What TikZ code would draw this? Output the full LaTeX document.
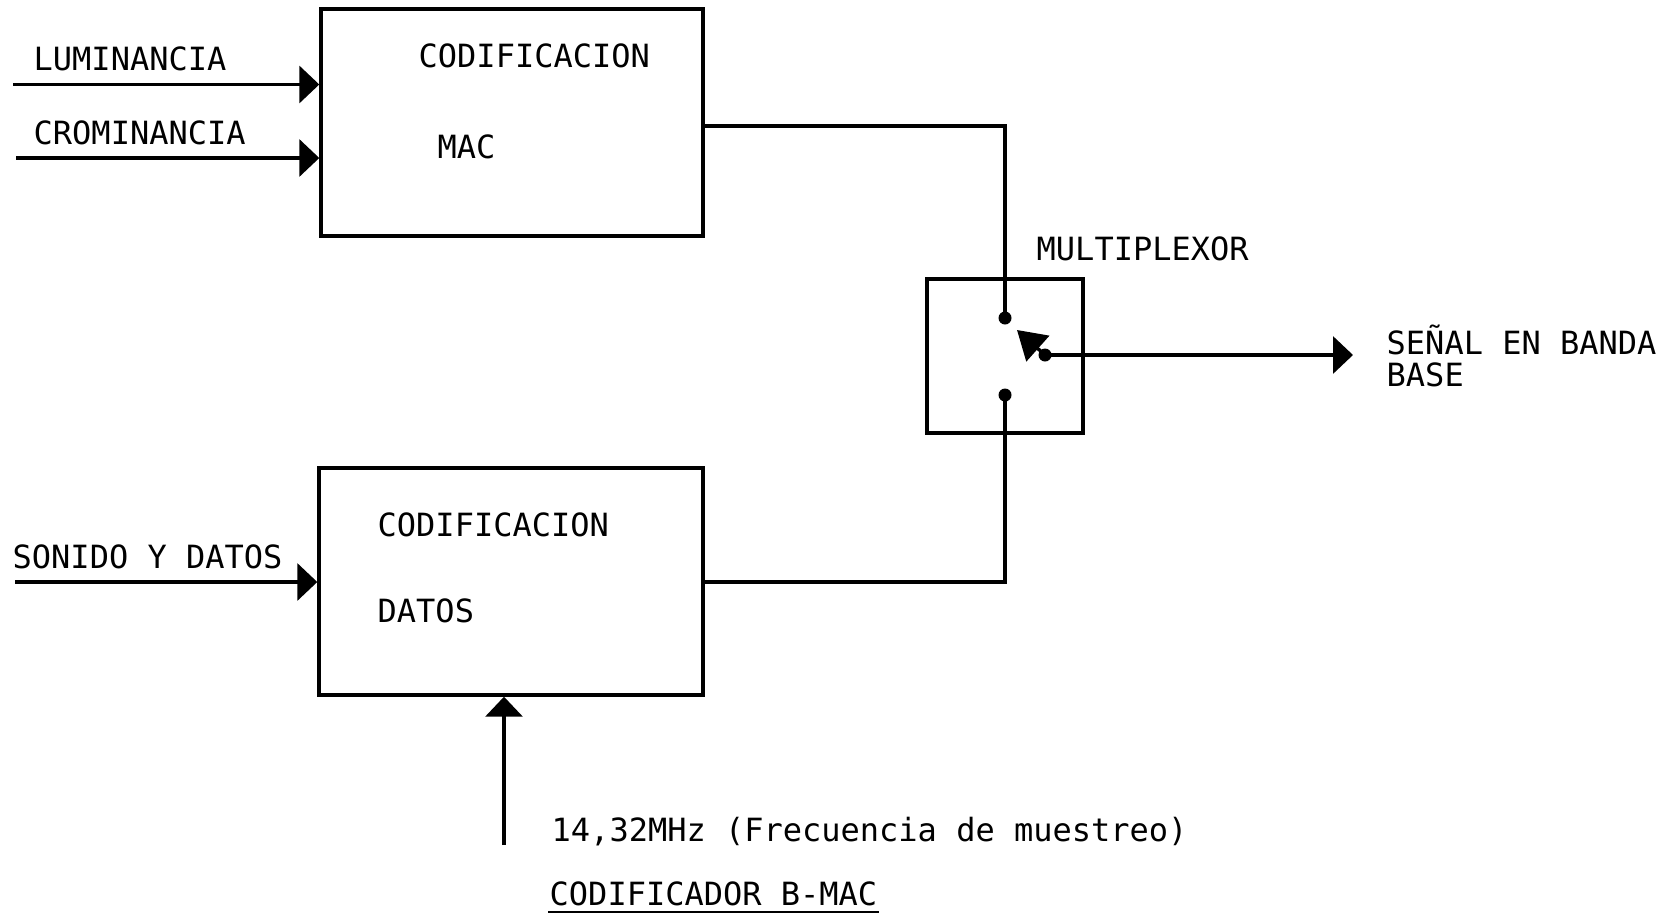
\documentclass[tikz,border=0pt]{standalone}
\usepackage{fontspec}
\setmonofont{DejaVu Sans Mono}
\usetikzlibrary{arrows.meta}
\begin{document}
\begin{tikzpicture}[x=1pt,y=-1pt,line width=3.4pt,
  lbl/.style={font=\ttfamily\fontsize{32}{36}\selectfont,inner sep=0pt,anchor=base west},
  blk/.style={draw,line width=3.4pt,inner sep=0pt},
  arr/.style={-{Triangle[length=20pt,width=37pt]},line width=3.4pt},
  swarr/.style={-{Triangle[length=28pt,width=34pt]},line width=3.4pt},
  dotn/.style={circle,fill,inner sep=0pt,minimum size=13pt}]
\useasboundingbox (0,0) rectangle (1677,913);
% blocks
\node[blk,minimum width=382pt,minimum height=227pt] (mac) at (512,122.3) {};
\node[blk,minimum width=384pt,minimum height=227pt] (dat) at (511,581.5) {};
\node[blk,minimum width=156pt,minimum height=154pt] (mux) at (1005,356) {};
% labels
\node[lbl] (lum) at (32,70.7) {LUMINANCIA};
\node[lbl] (cro) at (32,144.7) {CROMINANCIA};
\node[lbl] (cod1) at (417,67.7) {CODIFICACION};
\node[lbl] (macl) at (436,158.2) {MAC};
\node[lbl] (muxl) at (1035,260.7) {MULTIPLEXOR};
\node[lbl] (sen) at (1385,354.7) {SEÑAL EN BANDA};
\node[lbl] (base) at (1385,386.7) {BASE};
\node[lbl] (cod2) at (376,536.7) {CODIFICACION};
\node[lbl] (datl) at (376,622.7) {DATOS};
\node[lbl] (son) at (11,568.7) {SONIDO Y DATOS};
\node[lbl] (freq) at (550,841.7) {14,32MHz (Frecuencia de muestreo)};
\node[lbl] (codb) at (548,905.7) {CODIFICADOR B-MAC};
\draw[line width=2.5pt] ([yshift=-4pt]codb.south west) -- ([yshift=-4pt]codb.south east);
% free ends
\coordinate (lumin) at (13,84.5);
\coordinate (croin) at (16,158);
\coordinate (sonin) at (15,582);
\coordinate (clkin) at (504,845);
\coordinate (outend) at (1353,355);
\coordinate (swtip) at (1017,330);
% switch contacts
\node[dotn] (c1) at (1005,318) {};
\node[dotn] (c2) at (1005,395) {};
\node[dotn] (piv) at (1045,355) {};
% connectors
\draw[arr] (lumin) -- (lumin -| mac.west);
\draw[arr] (croin) -- (croin -| mac.west);
\draw[arr] (sonin) -- (sonin -| dat.west);
\draw[arr] (clkin) -- (clkin |- dat.south);
\draw (mac.east |- 0,126) -| (c1.center);
\draw (dat.east |- 0,582) -| (c2.center);
\draw[swarr] (piv.center) -- (swtip);
\draw[arr] (piv.center) -- (outend);
\end{tikzpicture}
\end{document}
